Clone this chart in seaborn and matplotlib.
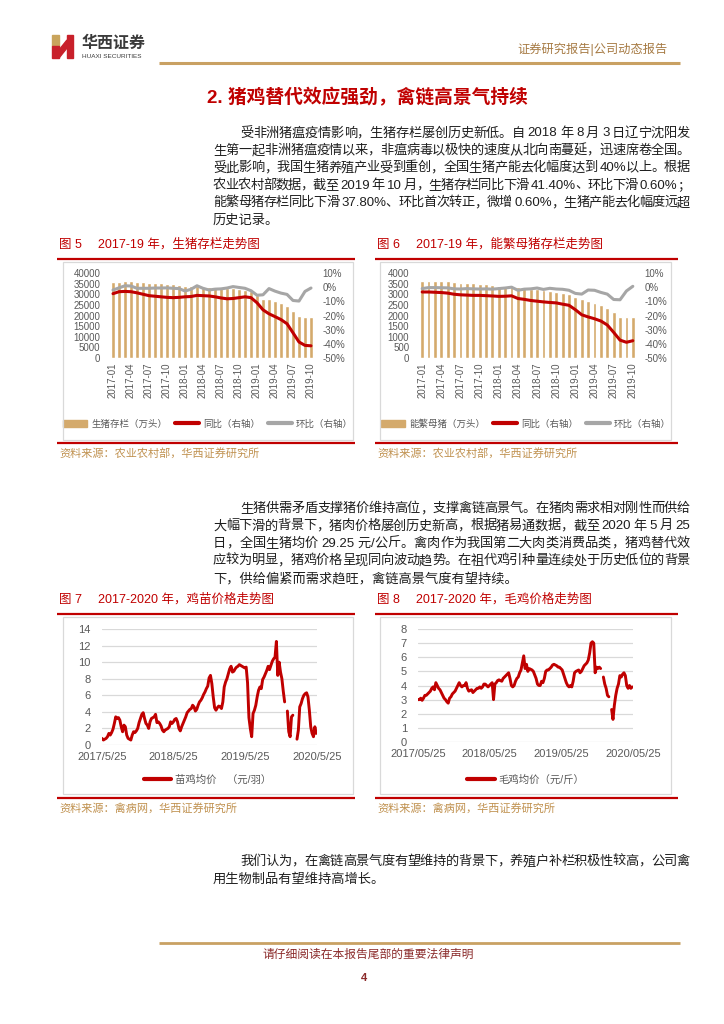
import re
import numpy as np
import pandas as pd
import matplotlib
matplotlib.use('Agg')
import matplotlib.pyplot as plt
import seaborn as sns
from matplotlib.lines import Line2D
from matplotlib.patches import Rectangle, Polygon, Patch
from matplotlib.font_manager import FontProperties

W, H, DPI = 724, 1024, 100
FONTS = ['Liberation Sans', 'Noto Sans CJK SC']

RED = '#C00000'
BAR_C = '#D4AA6C'
GRAY_C = '#A6A6A6'
TICK_C = '#595959'
SRC_C = '#C0914F'
GOLD = '#C9A163'
TEXT_C = '#1E1E1E'

# ---- data: figure 5 / 6 (monthly) ----
months = pd.date_range('2017-01-01', periods=34, freq='MS').strftime('%Y-%m').tolist()
hog_stock = [35800, 35800, 36100, 36200, 35800, 35600, 35300, 35300, 35200, 35000, 34900, 34500,
             34000, 33700, 33700, 33600, 33500, 33300, 32900, 32900, 32800, 32500, 32200, 31400,
             29600, 27900, 27600, 27000, 25900, 24300, 22300, 19900, 19450, 19300]
hog_yoy = [-4.6, -3.2, -3.0, -3.2, -4.0, -5.0, -6.0, -6.4, -6.8, -7.2, -7.4, -7.2,
           -6.8, -6.6, -5.8, -6.0, -6.2, -6.8, -7.6, -8.2, -8.0, -7.4, -6.8, -7.4,
           -11.0, -16.0, -18.8, -20.8, -22.9, -25.8, -32.2, -38.7, -41.1, -41.4]
hog_mom = [-2.0, -0.5, 1.0, 0.8, -0.8, -0.8, -0.8, -0.6, -0.6, -0.5, -0.8, -1.0,
           -2.7, -1.5, 1.0, -0.8, -2.0, -1.4, -1.2, -0.6, 0.4, -0.2, -0.8, -2.5,
           -5.7, -5.4, -1.0, -2.8, -4.2, -5.1, -9.4, -9.8, -3.0, -0.6]
sow_stock = [3630, 3620, 3620, 3620, 3610, 3580, 3550, 3540, 3520, 3500, 3470, 3440,
             3390, 3380, 3360, 3330, 3300, 3270, 3230, 3200, 3170, 3120, 3070, 3010,
             2880, 2770, 2690, 2590, 2480, 2350, 2160, 1950, 1920, 1930]
sow_yoy = [-3.4, -3.4, -3.6, -3.8, -4.2, -5.0, -5.4, -5.6, -5.8, -5.8, -6.0, -6.2,
           -6.5, -6.4, -6.1, -8.0, -8.6, -9.4, -9.9, -10.4, -10.8, -11.1, -12.0, -12.8,
           -15.9, -19.5, -21.0, -22.3, -23.9, -26.7, -31.9, -37.4, -38.9, -37.8]
sow_mom = [-1.0, -0.3, -0.3, -0.4, -0.5, -1.2, -1.3, -1.0, -1.2, -1.3, -1.2, -1.4,
           -1.0, -0.6, 0.0, -2.2, -1.4, -1.2, -0.6, -1.6, -0.8, -1.3, -1.5, -2.2,
           -4.4, -4.9, -2.0, -2.2, -3.7, -4.9, -8.7, -8.9, -2.7, 0.6]

# ---- data: figure 7 / 8 (weekly from 2017-05-25) ----
nan = np.nan
chick_price = [0.8, 0.6, 0.7, 0.8, 1.0, 1.4, 1.2, 1.5, 1.9, 2.6,
               3.4, 3.2, 3.3, 3.0, 2.2, 1.6, 2.4, 2.2, 1.2, 0.8,
               0.7, 0.6, 1.2, 1.6, 1.5, 1.7, 2.0, 2.7, 3.2, 3.7,
               3.9, 3.2, 2.6, 2.4, 2.0, 2.8, 3.2, 3.3, 3.4, 3.7,
               2.7, 2.8, 2.6, 2.3, 1.8, 1.6, 1.8, 1.9, 2.0, 2.2,
               2.8, 2.6, 2.8, 3.1, 3.2, 2.8, 2.0, 1.7, 2.2, 2.6,
               3.0, 3.4, 3.9, 4.1, 4.3, 4.4, 4.8, 4.6, 4.1, 4.3,
               4.8, 5.2, 5.4, 5.7, 6.1, 6.4, 6.8, 7.1, 8.1, 8.4,
               7.4, 5.8, 4.5, 4.2, 4.5, 4.7, 4.6, 4.4, 5.2, 7.0,
               7.6, 8.0, 8.6, 9.2, 9.5, 8.8, 8.9, 9.2, 9.4, 9.5,
               9.7, 9.6, 9.5, 9.4, 9.3, 9.4, 7.5, 3.3, 2.0, 1.0,
               3.8, 4.2, 4.8, 5.8, 6.6, 7.0, 6.8, 7.9, 8.2, 8.6,
               9.0, 9.5, 9.1, 9.6, 10.1, 10.4, 10.6, 12.5, 8.4, 10.0,
               8.8, 8.0, 6.5, 5.2, nan, 4.1, 1.6, 1.0, 3.4, 3.6,
               nan, nan, 0.7, 1.8, 4.6, 5.0, 5.6, 6.0, 6.2, 6.3,
               5.8, 4.2, 2.2, 1.4, 1.0, 2.2, 1.4]
broiler_price = [3.0, 3.0, 3.1, 2.95, 3.1, 3.3, 3.3, 3.4, 3.5, 3.6,
                 3.8, 3.9, 3.7, 4.2, 4.0, 3.8, 3.7, 3.5, 3.3, 3.1,
                 3.0, 2.85, 2.75, 3.1, 3.2, 3.4, 3.5, 3.6, 3.8, 4.0,
                 4.2, 4.0, 3.9, 4.0, 4.0, 4.2, 3.8, 3.6, 3.65, 3.7,
                 3.5, 3.6, 3.7, 3.8, 3.8, 3.9, 3.8, 3.9, 4.1, 4.1,
                 4.0, 3.9, 4.0, 4.1, 4.2, 3.0, 4.1, 4.2, 4.35, 4.4,
                 4.35, 4.3, 4.5, 4.6, 4.7, 4.8, 4.9, 4.5, 4.0, 3.9,
                 4.0, 4.3, 4.5, 4.6, 4.9, 5.1, 5.6, 6.1, 5.2, 5.5,
                 5.0, 5.2, 5.15, 5.1, 5.0, 4.75, 4.5, 4.1, 4.0, 4.0,
                 4.3, 4.2, 4.5, 5.0, 5.1, 5.1, 5.2, 5.3, 5.45, 5.5,
                 5.45, 5.4, 5.3, 5.3, 5.2, 5.1, 4.8, 4.5, 4.2, 4.0,
                 3.9, 4.0, 3.9, 4.3, 4.9, 5.0, 5.05, 5.1, 4.9, 5.0,
                 5.2, 5.4, 5.5, 5.6, 5.8, 6.3, 7.0, 7.1, 7.0, 4.9,
                 5.3, 5.2, 5.3, 5.2, nan, 4.6, 4.1, 3.8, 3.3, 3.2,
                 nan, 2.3, 1.6, 2.6, 3.3, 3.8, 4.1, 4.7, 4.6, 4.8,
                 4.9, 4.7, 4.0, 3.8, 4.0, 3.8, 3.9]
price_start, price_end = '2017-05-25', '2020-05-25'
tick_dates = ['2017-05-25', '2018-05-25', '2019-05-25', '2020-05-25']
chick_ticklabels = ['2017/5/25', '2018/5/25', '2019/5/25', '2020/5/25']
broiler_ticklabels = ['2017/05/25', '2018/05/25', '2019/05/25', '2020/05/25']

# ---- page text ----
title = '2. 猪鸡替代效应强劲，禽链高景气持续'
para1 = [
    '受非洲猪瘟疫情影响，生猪存栏屡创历史新低。自 2018 年 8 月 3 日辽宁沈阳发',
    '生第一起非洲猪瘟疫情以来，非瘟病毒以极快的速度从北向南蔓延，迅速席卷全国。',
    '受此影响，我国生猪养殖产业受到重创，全国生猪产能去化幅度达到 40%以上。根据',
    '农业农村部数据，截至 2019 年 10 月，生猪存栏同比下滑 41.40%、环比下滑 0.60%；',
    '能繁母猪存栏同比下滑 37.80%、环比首次转正，微增 0.60%，生猪产能去化幅度远超',
    '历史记录。',
]
para2 = [
    '生猪供需矛盾支撑猪价维持高位，支撑禽链高景气。在猪肉需求相对刚性而供给',
    '大幅下滑的背景下，猪肉价格屡创历史新高，根据猪易通数据，截至 2020 年 5 月 25',
    '日，全国生猪均价 29.25 元/公斤。禽肉作为我国第二大肉类消费品类，猪鸡替代效',
    '应较为明显，猪鸡价格呈现同向波动趋势。在祖代鸡引种量连续处于历史低位的背景',
    '下，供给偏紧而需求趋旺，禽链高景气度有望持续。',
]
para3 = [
    '我们认为，在禽链高景气度有望维持的背景下，养殖户补栏积极性较高，公司禽',
    '用生物制品有望维持高增长。',
]

sns.set_theme(style='white')
plt.rcParams['font.family'] = FONTS
plt.rcParams['axes.unicode_minus'] = False

fig = plt.figure(figsize=(W / DPI, H / DPI), dpi=DPI)
renderer = fig.canvas.get_renderer()


def fx(x):
    return x / W


def fy(y):
    return 1 - y / H


def add_ax(x0, y0, x1, y1):
    return fig.add_axes([fx(x0), fy(y1), (x1 - x0) / W, (y1 - y0) / H])


def hline(x0, x1, y, color, lw):
    fig.add_artist(Line2D([fx(x0), fx(x1)], [fy(y), fy(y)], transform=fig.transFigure,
                          color=color, lw=lw, solid_capstyle='butt'))


def box(x0, y0, x1, y1):
    fig.add_artist(Rectangle((fx(x0), fy(y1)), (x1 - x0) / W, (y1 - y0) / H,
                             transform=fig.transFigure, fill=False, ec='#D9D9D9', lw=0.9))


def put_line(x0, x1, y, s, size, justify):
    if not justify:
        fig.text(fx(x0), fy(y), s, fontsize=size, va='center', color=TEXT_C)
        return
    prop = FontProperties(family=FONTS, size=size)
    em = size * DPI / 72
    tokens = re.findall(r'[A-Za-z0-9.%/]+| |.', s)
    widths = [0.25 * em if t == ' ' else renderer.get_text_width_height_descent(t, prop, ismath=False)[0]
              for t in tokens]
    gap = ((x1 - x0) - sum(widths)) / (len(tokens) - 1)
    x = x0
    for t, w in zip(tokens, widths):
        if t != ' ':
            fig.text(fx(x), fy(y), t, fontsize=size, va='center', color=TEXT_C)
        x += w + gap


def paragraph(lines, y0, step=17.4):
    for i, s in enumerate(lines):
        put_line(240 if i == 0 else 213, 690, y0 + i * step, s, 9.5, i < len(lines) - 1)


def clean(ax):
    for s in ax.spines.values():
        s.set_visible(False)
    ax.set_xlabel('')
    ax.set_ylabel('')


def stock_chart(x0, x1, stock, yoy, mom, ymax, ystep, bar_label, cx):
    n = len(months)
    ax = add_ax(x0, 273, x1, 358)
    sns.barplot(x=months, y=stock, color=BAR_C, saturation=1, width=0.6, ax=ax)
    ax.set_ylim(0, ymax)
    ax.set_yticks(np.arange(0, ymax + 1, ystep))
    ax.set_xticks(range(0, n, 3))
    ax.set_xticklabels(months[::3], rotation=90)
    ax.tick_params(axis='y', length=0, pad=7, labelsize=7, labelcolor=TICK_C)
    ax.tick_params(axis='x', length=0, pad=3, labelsize=7, labelcolor=TICK_C)
    clean(ax)
    ax2 = ax.twinx()
    idx = np.arange(n)
    sns.lineplot(x=idx, y=yoy, color=RED, linewidth=2.2, ax=ax2)
    sns.lineplot(x=idx, y=mom, color=GRAY_C, linewidth=2.2, ax=ax2)
    ax2.set_ylim(-50, 10)
    ticks = np.arange(-50, 11, 10)
    ax2.set_yticks(ticks)
    ax2.set_yticklabels([f'{t}%' for t in ticks])
    ax2.tick_params(axis='y', length=0, pad=6, labelsize=7, labelcolor=TICK_C)
    clean(ax2)
    ax.set_xlim(-0.5, n - 0.5)
    handles = [Patch(color=BAR_C), Line2D([], [], color=RED, lw=3), Line2D([], [], color=GRAY_C, lw=3)]
    ax2.legend(handles, [bar_label, '同比（右轴）', '环比（右轴）'], ncol=3, loc='center',
               bbox_to_anchor=(fx(cx), fy(424)), bbox_transform=fig.transFigure, frameon=False,
               fontsize=6.8, handlelength=2.6, handletextpad=0.4, columnspacing=0.8, labelcolor=TICK_C)


def price_chart(x0, x1, y1, values, ymax, ystep, ticklabels, label, cx):
    ax = add_ax(x0, 629, x1, y1)
    df = pd.DataFrame({'date': pd.date_range(price_start, periods=len(values), freq='7D'),
                       'price': values})
    df['seg'] = df['price'].isna().cumsum()
    df = df.dropna()
    sns.lineplot(data=df, x='date', y='price', units='seg', estimator=None, color=RED,
                 linewidth=2.1, ax=ax)
    ax.set_ylim(0, ymax)
    ax.set_yticks(np.arange(0, ymax + 0.1, ystep))
    ax.set_xlim(pd.Timestamp(price_start), pd.Timestamp(price_end))
    ax.set_xticks(pd.to_datetime(tick_dates))
    ax.set_xticklabels(ticklabels)
    ax.grid(axis='y', color='#D9D9D9', lw=0.9)
    ax.set_axisbelow(True)
    ax.tick_params(axis='y', length=0, pad=8, labelsize=8, labelcolor=TICK_C)
    ax.tick_params(axis='x', length=0, pad=5, labelsize=8, labelcolor=TICK_C)
    clean(ax)
    ax.legend([Line2D([], [], color=RED, lw=3)], [label], loc='center',
              bbox_to_anchor=(fx(cx), fy(780)), bbox_transform=fig.transFigure, frameon=False,
              fontsize=7.5, handlelength=2.6, handletextpad=0.4, labelcolor=TICK_C)


# ---- header ----
def P(x, y):
    return (fx(x), fy(y))


fig.add_artist(Polygon([P(52, 35), P(59, 35), P(59, 46), P(52, 46)], transform=fig.transFigure, color='#C9A45C'))
fig.add_artist(Polygon([P(52, 46), P(59, 46), P(59, 58), P(52, 58)], transform=fig.transFigure, color='#C8202A'))
fig.add_artist(Polygon([P(59, 50), P(67, 40), P(67, 48), P(59, 58)], transform=fig.transFigure, color='#C8202A'))
fig.add_artist(Polygon([P(67, 35), P(73, 35), P(73, 58), P(67, 58)], transform=fig.transFigure, color='#C8202A'))
fig.text(fx(82), fy(43), '华西证券', fontsize=11.5, fontweight='bold', color='#3A3A3A', va='center')
fig.text(fx(82), fy(56), 'HUAXI SECURITIES', fontsize=4.6, color='#3A3A3A', va='center')
fig.text(fx(517), fy(49), '证券研究报告|公司动态报告', fontsize=8.8, color='#A67A43', va='center')
hline(159, 680, 63, GOLD, 2.2)

fig.text(fx(367), fy(98), title, fontsize=13.5, fontweight='bold', color=RED, ha='center', va='center')

paragraph(para1, 133.5)

# ---- figures 5 / 6 ----
fig.text(fx(59), fy(244), '图 5　 2017-19 年，生猪存栏走势图', fontsize=9, color=RED, va='center')
fig.text(fx(377), fy(244), '图 6　 2017-19 年，能繁母猪存栏走势图', fontsize=9, color=RED, va='center')
hline(57, 355, 259, RED, 1.6)
hline(375, 678, 259, RED, 1.6)
box(63, 262, 353, 440)
box(380, 262, 671, 440)
stock_chart(110, 314, hog_stock, hog_yoy, hog_mom, 40000, 5000, '生猪存栏（万头）', 208)
stock_chart(419, 636, sow_stock, sow_yoy, sow_mom, 4000, 500, '能繁母猪（万头）', 526)
hline(57, 355, 443, RED, 1.6)
hline(375, 678, 443, RED, 1.6)
fig.text(fx(59), fy(453), '资料来源：农业农村部，华西证券研究所', fontsize=8, color=SRC_C, va='center')
fig.text(fx(377), fy(453), '资料来源：农业农村部，华西证券研究所', fontsize=8, color=SRC_C, va='center')

paragraph(para2, 509)

# ---- figures 7 / 8 ----
fig.text(fx(59), fy(599), '图 7　 2017-2020 年，鸡苗价格走势图', fontsize=9, color=RED, va='center')
fig.text(fx(377), fy(599), '图 8　 2017-2020 年，毛鸡价格走势图', fontsize=9, color=RED, va='center')
hline(57, 355, 614, RED, 1.6)
hline(375, 678, 614, RED, 1.6)
box(63, 617, 353, 794)
box(380, 617, 671, 794)
price_chart(102, 317, 745, chick_price, 14, 2, chick_ticklabels, '苗鸡均价　（元/羽）', 208)
price_chart(418, 633, 742, broiler_price, 8, 1, broiler_ticklabels, '毛鸡均价（元/斤）', 526)
hline(57, 355, 798, RED, 1.6)
hline(375, 678, 798, RED, 1.6)
fig.text(fx(59), fy(808), '资料来源：禽病网，华西证券研究所', fontsize=8, color=SRC_C, va='center')
fig.text(fx(377), fy(808), '资料来源：禽病网，华西证券研究所', fontsize=8, color=SRC_C, va='center')

paragraph(para3, 862)

# ---- footer ----
hline(159, 680, 943, GOLD, 2.0)
fig.text(fx(368), fy(955), '请仔细阅读在本报告尾部的重要法律声明', fontsize=8.5, color='#8B2A2A',
         ha='center', va='center')
fig.text(fx(364), fy(978), '4', fontsize=8, fontweight='bold', color='#8B2A2A', ha='center', va='center')

fig.savefig('out.png', dpi=DPI)
